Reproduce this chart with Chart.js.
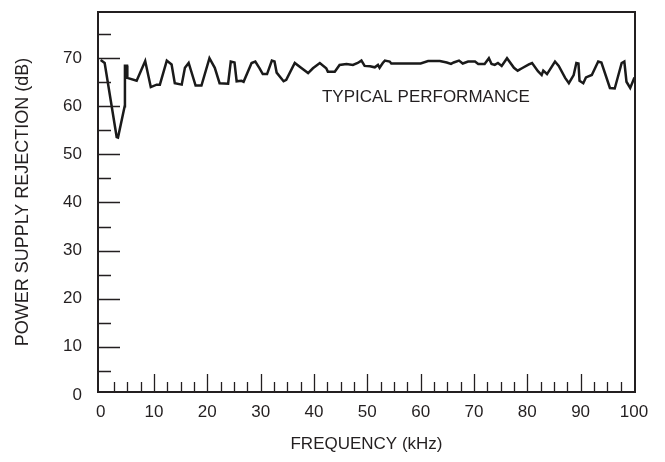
<!DOCTYPE html>
<html>
<head>
<meta charset="utf-8">
<script src="https://cdn.jsdelivr.net/npm/chart.js@4.4.1/dist/chart.umd.min.js"></script>
<style>
    html, body { margin: 0; padding: 0; background: #fff; }
</style>
</head>
<body>
<canvas id="myChart" width="665" height="462"></canvas>
<script>
// frequency (kHz) and supply rejection (dB)
let freq = [0, 0.75, 3.0, 3.25, 4.5, 4.55, 4.95, 5.0, 6.75, 8.35,
    9.4, 10.5, 11.1, 12.4, 13.3, 13.9, 15.2, 15.8, 16.5, 17.8,
    18.9, 20.4, 21.4, 22.3, 23.9, 24.4, 25.1, 25.5, 26.4, 26.8,
    28.3, 29.0, 29.8, 30.4, 31.2, 32.1, 32.6, 33.0, 34.3, 34.8,
    36.4, 37.7, 38.9, 39.8, 41.1, 42.3, 42.6, 43.9, 44.8, 46.1,
    47.3, 48.2, 48.9, 49.5, 50.5, 51.4, 52.0, 52.3, 52.9, 53.3,
    54.2, 54.5, 60.0, 61.4, 63.6, 64.9, 65.7, 66.2, 67.2, 67.9,
    68.9, 70.2, 70.8, 72.0, 72.8, 73.3, 73.9, 74.5, 75.2, 76.2,
    77.5, 78.2, 79.0, 80.3, 80.9, 82.0, 82.7, 83.0, 83.7, 85.2,
    85.9, 87.1, 87.8, 88.7, 89.2, 89.6, 89.8, 90.5, 91.0, 92.1,
    93.3, 93.9, 95.5, 96.4, 97.7, 98.2, 98.6, 99.3, 100.1];
let psrr = [69.6, 69.0, 53.6, 53.5, 60.0, 68.4, 68.4, 65.9, 65.3, 69.4,
    64.0, 64.5, 64.5, 69.5, 68.7, 64.8, 64.5, 68.0, 69.0, 64.3,
    64.3, 70.0, 68.0, 64.8, 64.7, 69.3, 69.1, 65.2, 65.3, 65.1,
    69.0, 69.3, 67.9, 66.7, 66.7, 69.5, 69.3, 67.0, 65.2, 65.5,
    69.0, 67.9, 66.9, 67.9, 69.0, 67.9, 67.2, 67.2, 68.6, 68.8,
    68.6, 69.0, 69.5, 68.4, 68.3, 68.1, 68.6, 68.0, 69.0, 69.5,
    69.3, 68.9, 68.9, 69.4, 69.4, 69.1, 68.8, 69.1, 69.5, 68.9,
    69.3, 69.3, 68.8, 68.8, 70.0, 68.8, 68.6, 69.0, 68.4, 70.0,
    68.0, 67.4, 67.9, 68.7, 69.0, 67.3, 66.5, 67.4, 66.7, 69.3,
    68.4, 65.9, 64.8, 66.5, 69.0, 68.9, 65.3, 64.8, 66.0, 66.5,
    69.3, 69.1, 63.8, 63.7, 69.0, 69.3, 65.1, 63.8, 66.0];
let xTicks = [0, 10, 20, 30, 40, 50, 60, 70, 80, 90, 100];
let yTicks = [0, 10, 20, 30, 40, 50, 60, 70];
let note = 'TYPICAL PERFORMANCE';

const ink = '#231f20';
Chart.defaults.font.family = '"Liberation Sans", Arial, Helvetica, sans-serif';
Chart.defaults.color = ink;

// inward tick marks, box frame and the note
const frame = {
    id: 'frame',
    afterDatasetsDraw(chart) {
        const {ctx, chartArea: a, scales: {x, y}} = chart;
        ctx.save();
        ctx.strokeStyle = ink;
        ctx.lineWidth = 1.3;
        ctx.beginPath();
        for (let v = 2.5; v < 100; v += 2.5) {
            const px = Math.round(x.getPixelForValue(v)) + 0.5;
            const len = v % 10 === 0 ? 18 : 10;
            ctx.moveTo(px, a.bottom);
            ctx.lineTo(px, a.bottom - len);
        }
        for (let v = 5; v <= 75; v += 5) {
            const py = Math.round(y.getPixelForValue(v)) + 0.5;
            const len = v % 10 === 0 ? 22 : 13;
            ctx.moveTo(a.left, py);
            ctx.lineTo(a.left + len, py);
        }
        ctx.stroke();
        ctx.lineWidth = 2;
        ctx.strokeRect(a.left, a.top, a.width, a.height);
        ctx.fillStyle = ink;
        ctx.font = '17px "Liberation Sans", Arial, sans-serif';
        ctx.textBaseline = 'middle';
        ctx.fillText(note, x.getPixelForValue(41.5), y.getPixelForValue(61.8));
        ctx.restore();
    }
};

let psrChart = new Chart(document.getElementById('myChart'), {
    type: 'line',
    data: {
        datasets: [{
            data: freq.map((f, i) => ({x: f, y: psrr[i]})),
            borderColor: '#1a1a1a',
            borderWidth: 2.5,
            pointRadius: 0,
            tension: 0,
            fill: false
        }]
    },
    options: {
        responsive: false,
        animation: false,
        layout: {
            padding: {left: 0, right: 30, top: 12, bottom: 0}
        },
        plugins: {
            legend: {display: false},
            tooltip: {enabled: false}
        },
        scales: {
            x: {
                type: 'linear',
                min: -0.5,
                max: 100.2,
                grid: {display: false, drawTicks: false},
                border: {display: false},
                afterBuildTicks: s => { s.ticks = xTicks.map(v => ({value: v})); },
                afterFit: s => { s.height = 70; s.paddingLeft = 0; s.paddingRight = 0; },
                ticks: {padding: 10, font: {size: 17}, maxRotation: 0, autoSkip: false},
                title: {display: true, text: 'FREQUENCY (kHz)', font: {size: 17}, padding: 7}
            },
            y: {
                type: 'linear',
                min: 0.6,
                max: 79.6,
                grid: {display: false, drawTicks: false},
                border: {display: false},
                afterBuildTicks: s => { s.ticks = yTicks.map(v => ({value: v})); },
                afterFit: s => { s.width = 98; s.paddingTop = 0; s.paddingBottom = 0; },
                ticks: {padding: 16, font: {size: 17}, autoSkip: false},
                title: {display: true, text: 'POWER SUPPLY REJECTION (dB)', font: {size: 18}, padding: 12}
            }
        }
    },
    plugins: [frame]
});
</script>
</body>
</html>
